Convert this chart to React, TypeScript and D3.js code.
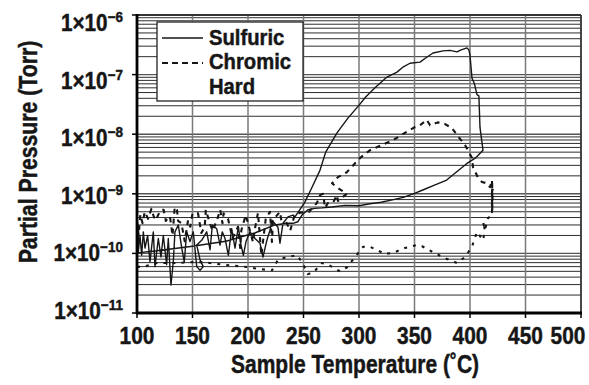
import React from "react";
import * as d3 from "d3";

const W = 589;
const H = 385;
const M = { left: 137, right: 581, top: 15, bottom: 313 };

const xTicks = [100, 150, 200, 250, 300, 350, 400, 450, 500];
const yExps = [-6, -7, -8, -9, -10, -11];

// Sulfuric (solid): heating (noisy) -> rise -> drop -> cooling branch
const sulfuricT = [
  100, 100.5, 101, 101.2, 102.7, 104.2, 105.7, 107.2, 109.6, 111.7, 114.7, 116.2, 119.2, 121.6, 123.7,
  126.7, 128.2, 130.6, 132.7, 134.2, 137.2, 140.3, 142.6, 144.8, 147.7, 150.7, 153.8, 156.8, 159.7,
  156.8, 153.8, 158.3, 162.8, 165.8, 167.9, 171.8, 174.8, 176.8, 179.3, 182.3, 185.3, 188.3, 191.3,
  193.7, 195.8, 198.2, 201.8, 206.3, 210.8, 213.5, 217, 219.8, 221.6, 227, 228.8, 231.5, 236, 240.5,
  242.3, 251, 257.7, 264.9, 270, 280.2, 290, 299, 306, 314.4, 325.2, 334.2, 340, 345.9, 355, 360,
  366.7, 375.7, 382, 388.3, 392, 397.3, 399, 400, 401.8, 404, 406.3, 408, 409, 411.7,
  405, 397, 390, 379, 368, 358, 350, 340, 330, 320, 310, 300, 287.4, 275.7, 266.7, 260, 254, 248.6,
  245, 240.5, 235, 224.3, 206, 180, 150, 120, 100,
];
const sulfuricP = [
  2.6e-10, 1.0e-10, 2.8e-10, 1.07e-10, 2.0e-10, 9.3e-11, 2.3e-10, 1.23e-10, 2.0e-10, 7.2e-11, 2.3e-10, 6.0e-11, 1.78e-10, 8.7e-11, 2.0e-10,
  6.5e-11, 1.78e-10, 2.95e-11, 7.2e-11, 2.3e-10, 3.0e-10, 1.23e-10, 7.2e-11, 2.3e-10, 1.58e-10, 2.3e-10, 6.0e-11, 5.2e-11, 6.0e-11,
  7.8e-11, 1.38e-10, 1.66e-10, 2.3e-10, 1.15e-10, 3.0e-10, 2.6e-10, 1.38e-10, 2.3e-10, 1.78e-10, 9.3e-11, 2.6e-10, 1.23e-10, 2.8e-10,
  1.38e-10, 9.3e-11, 1.58e-10, 2.3e-10, 1.78e-10, 1.48e-10, 8.7e-11, 1.66e-10, 2.45e-10, 3.6e-10, 2.75e-10, 1.48e-10, 3.2e-10, 4.1e-10, 4.4e-10,
  4.1e-10, 7.1e-10, 1.29e-9, 2.5e-9, 5.0e-9, 1.05e-8, 1.86e-8, 2.9e-8, 4.2e-8, 6.0e-8, 9.1e-8, 1.1e-7, 1.35e-7, 1.55e-7, 1.62e-7, 1.9e-7,
  2.3e-7, 2.5e-7, 2.55e-7, 2.4e-7, 2.6e-7, 2.8e-7, 2.6e-7, 2.1e-7, 8.7e-8, 7.0e-8, 4.6e-8, 4.4e-8, 1.3e-8, 5.4e-9,
  4.0e-9, 3.2e-9, 2.5e-9, 1.7e-9, 1.4e-9, 1.17e-9, 1.02e-9, 8.7e-10, 7.9e-10, 7.2e-10, 6.8e-10, 6.3e-10, 6.4e-10, 6.0e-10, 5.8e-10, 5.7e-10, 5.4e-10, 4.4e-10,
  3.4e-10, 3.2e-10, 3.2e-10, 3.0e-10, 2.2e-10, 1.6e-10, 1.32e-10, 1.12e-10, 1.02e-10,
];

// Chromic (dashed)
const chromicT = [
  100, 101.5, 103, 105, 107, 110, 113, 115, 117, 119, 122, 124, 126, 129, 130, 132, 134, 136, 137, 140,
  143, 146, 148, 150, 155, 158, 161, 162, 165, 168, 172, 175, 177, 178, 182, 186, 191, 193, 194, 198,
  204.5, 206, 209, 212, 216, 219.8, 221.6, 222.5, 228.8, 230, 235, 238, 242, 246.8, 255, 262, 264.9,
  267.6, 269.4, 272, 276.6, 280.2, 281, 289, 280, 275.7, 278.4, 281, 289, 301, 310, 320.7, 330.6, 343,
  350.5, 355, 361, 364, 371, 377.5, 383.8, 389, 395.5, 401.8, 402.7, 407, 410.8, 415.3, 418, 419.8,
  419.8, 420, 420, 420.5,
];
const chromicP = [
  3.5e-10, 2.0e-10, 4.5e-10, 3.2e-10, 5.0e-10, 3.8e-10, 5.6e-10, 4.2e-10, 3.6e-10, 4.4e-10, 5.4e-10, 5.4e-10, 3.5e-10, 4.2e-10, 3.8e-10, 2.0e-10, 6.0e-10, 5.4e-10, 3.5e-10, 3.2e-10,
  1.6e-10, 3.6e-10, 2.8e-10, 4.7e-10, 4.7e-10, 2.2e-10, 2.8e-10, 5.4e-10, 3.5e-10, 2.4e-10, 3.6e-10, 5.4e-10, 3.2e-10, 4.7e-10, 3.8e-10, 1.8e-10, 2.8e-10, 1.23e-10, 2.45e-10, 4.4e-10,
  1.55e-10, 2.45e-10, 4.8e-10, 9.3e-11, 3.8e-10, 5.0e-10, 1.55e-10, 3.6e-10, 5.0e-10, 3.6e-10, 3.2e-10, 2.4e-10, 4.4e-10, 4.8e-10, 5.0e-10, 7.0e-10, 9.5e-10,
  1.0e-9, 5.8e-10, 7.0e-10, 7.1e-10, 9.5e-10, 7.6e-10, 1.0e-9, 1.29e-9, 1.5e-9, 1.7e-9, 1.9e-9, 2.3e-9, 4.0e-9, 5.4e-9, 6.6e-9, 7.9e-9, 1.1e-8,
  1.32e-8, 1.41e-8, 1.74e-8, 1.41e-8, 1.58e-8, 1.48e-8, 1.26e-8, 9.3e-9, 6.6e-9, 4.0e-9, 2.8e-9, 1.9e-9, 1.58e-9, 1.5e-9, 1.29e-9, 1.7e-9,
  4.9e-10, 1.5e-9, 5.0e-10, 1.2e-9,
];

// Hard (short dashes)
const hardT = [
  100, 105, 118, 135, 154, 165.8, 176.6, 188.3, 199, 209, 221.6, 227, 235, 244, 248.6, 254, 258.6, 266.7,
  272, 282.9, 289, 296.4, 303.6, 310, 323.4, 330.6, 341.4, 352, 356.8, 366.7, 377.5, 388.3, 395.5, 401.8,
  406.3, 411.7, 413.5, 411.7, 413.5, 416.2, 419.8,
];
const hardP = [
  6.0e-11, 5.9e-11, 6.9e-11, 6.9e-11, 7.2e-11, 6.9e-11, 6.5e-11, 6.2e-11, 5.9e-11, 5.5e-11, 5.2e-11, 7.8e-11, 8.7e-11, 9.3e-11, 7.2e-11, 4.5e-11, 4.7e-11, 6.9e-11,
  6.5e-11, 5.0e-11, 5.8e-11, 8.7e-11, 1.29e-10, 1.29e-10, 9.8e-11, 1.02e-10, 1.23e-10, 1.38e-10, 1.32e-10, 1.05e-10, 8.3e-11, 6.9e-11, 8.7e-11, 1.3e-10,
  2.3e-10, 1.66e-10, 2.45e-10, 3.4e-10, 2.5e-10, 3.9e-10, 4.4e-10,
];

const seriesNames = ["Sulfuric", "Chromic", "Hard"];

const FONT = "'Liberation Sans', Arial, Helvetica, sans-serif";
const INK = "#161616";

function zip(t: number[], p: number[]): [number, number][] {
  return t.map((v, i) => [v, p[i]] as [number, number]);
}

function Cond(props: { x: number; y: number; s: number; rot?: boolean; children: React.ReactNode }) {
  const { x, y, s, rot, children } = props;
  return <g transform={`translate(${x},${y})${rot ? " rotate(-90)" : ""} scale(${s},1)`}>{children}</g>;
}

const txt = { fontFamily: FONT, fontWeight: "bold" as const, fill: INK, stroke: INK, strokeWidth: 0.45 };

export default function App() {
  const x = d3.scaleLinear().domain([100, 500]).range([M.left, M.right]);
  const y = d3.scaleLog().domain([1e-11, 1e-6]).range([M.bottom, M.top]);
  const yLab = d3.scaleLinear().domain([-6, -11]).range([31, 319]);

  const line = d3
    .line<[number, number]>()
    .x((d) => x(d[0]))
    .y((d) => y(d[1]));

  const minor: number[] = [];
  for (let e = -11; e < -6; e++) {
    for (let m = 2; m <= 9; m++) minor.push(m * Math.pow(10, e));
  }
  const majors = yExps.filter((e) => e !== -6 && e !== -11).map((e) => Math.pow(10, e));

  return (
    <svg width={W} height={H} style={{ position: "absolute", left: 0, top: 0, background: "#fff" }}>
      <defs>
        <clipPath id="plot">
          <rect x={M.left} y={M.top} width={M.right - M.left} height={M.bottom - M.top} />
        </clipPath>
      </defs>
      <rect x={0} y={0} width={W} height={H} fill="#fff" />

      {/* horizontal grid */}
      {minor.map((v, i) => (
        <line key={"mn" + i} x1={M.left} x2={M.right} y1={y(v)} y2={y(v)} stroke="#151515" strokeWidth={0.9} />
      ))}
      {majors.map((v, i) => (
        <line key={"mj" + i} x1={M.left} x2={M.right} y1={y(v)} y2={y(v)} stroke="#555" strokeWidth={1.4} />
      ))}
      {/* vertical grid */}
      {xTicks.slice(1, -1).map((t) => (
        <line key={"vg" + t} x1={x(t)} x2={x(t)} y1={M.top} y2={M.bottom} stroke="#7a7a7a" strokeWidth={1.5} />
      ))}

      {/* frame */}
      <line x1={M.left} x2={M.right} y1={M.top} y2={M.top} stroke="#333" strokeWidth={1.8} />
      <line x1={M.right} x2={M.right} y1={M.top} y2={M.bottom} stroke="#333" strokeWidth={1.8} />

      {/* data */}
      <g clipPath="url(#plot)" fill="none" strokeLinejoin="round">
        <path d={line(zip(hardT, hardP)) || ""} stroke={INK} strokeWidth={2.1} strokeDasharray="3,6" />
        <path d={line(zip(chromicT, chromicP)) || ""} stroke={INK} strokeWidth={2.1} strokeDasharray="5,5" />
        <path d={line(zip(sulfuricT, sulfuricP)) || ""} stroke={INK} strokeWidth={1.4} />
      </g>

      {/* axes */}
      <line x1={M.left} x2={M.left} y1={M.top - 1} y2={M.bottom + 1} stroke="#000" strokeWidth={2.8} />
      <line x1={M.left - 1} x2={M.right + 1} y1={M.bottom} y2={M.bottom} stroke="#000" strokeWidth={2.8} />
      {yExps.map((e) => (
        <line key={"yt" + e} x1={M.left - 5} x2={M.left} y1={y(Math.pow(10, e))} y2={y(Math.pow(10, e))} stroke="#000" strokeWidth={1.5} />
      ))}
      {xTicks.map((t) => (
        <line key={"xt" + t} x1={x(t)} x2={x(t)} y1={M.bottom} y2={M.bottom + 5} stroke="#000" strokeWidth={1.5} />
      ))}

      {/* y tick labels */}
      {yExps.map((e) => (
        <Cond key={"yl" + e} x={123} y={yLab(e)} s={0.9}>
          <text textAnchor="end" fontSize={23} {...txt}>
            1×10
            <tspan dy={-9} fontSize={15}>
              {"\u2212" + Math.abs(e)}
            </tspan>
          </text>
        </Cond>
      ))}

      {/* x tick labels */}
      {xTicks.map((t) => (
        <Cond key={"xl" + t} x={Math.min(x(t), 568)} y={344} s={0.87}>
          <text textAnchor="middle" fontSize={24} {...txt}>
            {t}
          </text>
        </Cond>
      ))}

      {/* axis titles */}
      <Cond x={355} y={373} s={0.84}>
        <text textAnchor="middle" fontSize={25} {...txt}>
          Sample Temperature (˚C)
        </text>
      </Cond>
      <Cond x={37} y={152} s={0.85} rot>
        <text textAnchor="middle" fontSize={25} {...txt}>
          Partial Pressure (Torr)
        </text>
      </Cond>

      {/* legend */}
      <rect x={157} y={22} width={146} height={79} fill="#fff" stroke="#222" strokeWidth={1.3} />
      <line x1={162} x2={203} y1={38} y2={38} stroke={INK} strokeWidth={1.6} />
      <line x1={162} x2={203} y1={63} y2={63} stroke={INK} strokeWidth={2.2} strokeDasharray="6,4" />
      {seriesNames.map((n, i) => (
        <Cond key={n} x={209} y={[45, 69, 94][i]} s={0.9}>
          <text fontSize={22.5} {...txt}>
            {n}
          </text>
        </Cond>
      ))}
    </svg>
  );
}
